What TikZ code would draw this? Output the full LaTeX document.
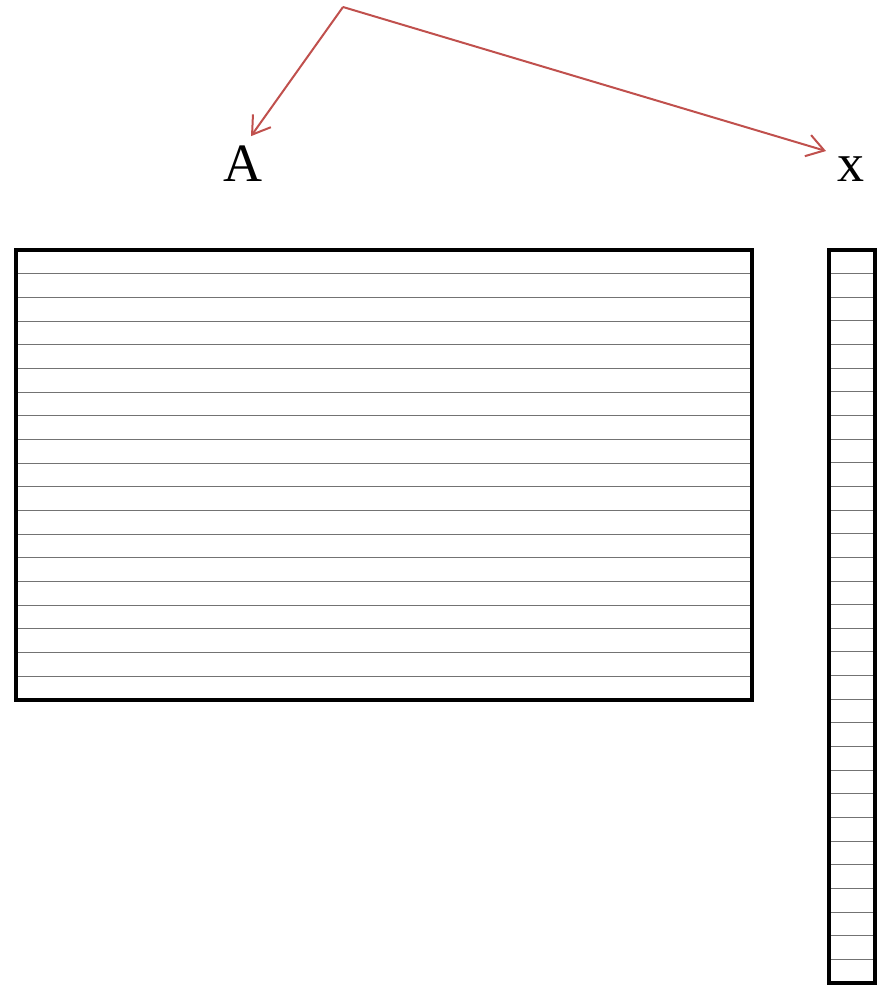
\documentclass[tikz,border=0pt]{standalone}
\usepackage{fontspec}
\setmainfont{Liberation Serif}
\usetikzlibrary{arrows.meta,calc}
\definecolor{arrowred}{RGB}{192,80,77}
\tikzset{
  frame/.style={draw=black,line width=4pt,line join=miter,inner sep=0pt,outer sep=0pt,anchor=north west},
  rowline/.style={draw=black!55,line width=1pt},
  pointer/.style={draw=arrowred,line width=2pt,
    -{Straight Barb[length=17pt,width=22pt,line width=2pt]}},
  label/.style={inner sep=0pt,anchor=base,font=\fontsize{54}{60}\selectfont}
}
\begin{document}
\begin{tikzpicture}[x=1pt,y=-1pt]
  \useasboundingbox (0,0) rectangle (877,986);

  % labels and the shared origin of the two pointers
  \coordinate (apex) at (343,7);
  \node[label] (A) at (243,181) {A};
  \node[label] (x) at (851,181) {x};
  \draw[pointer] (apex) -- ([xshift=8pt,yshift=9pt]A.north);
  \draw[pointer] (apex) -- ([xshift=-25pt,yshift=5pt]x.north);

  % matrix A: 19 rows
  \foreach \k in {1,...,18}
    \draw[rowline] (16,{250+\k*(450/19)}) -- (752,{250+\k*(450/19)});
  \node[frame,minimum width=736pt,minimum height=450pt] (matA) at (16,250) {};

  % vector x: 31 entries
  \foreach \k in {1,...,30}
    \draw[rowline] (829,{250+\k*(733/31)}) -- (875,{250+\k*(733/31)});
  \node[frame,minimum width=46pt,minimum height=733pt] (vecx) at (829,250) {};
\end{tikzpicture}
\end{document}
